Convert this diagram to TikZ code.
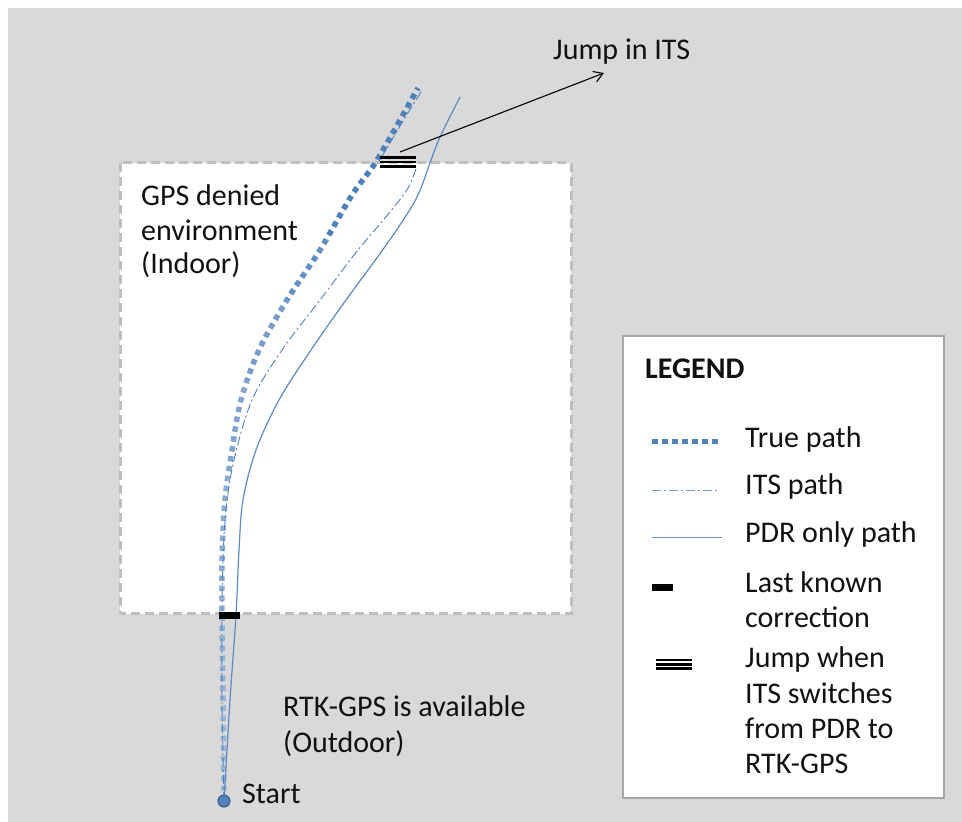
\documentclass[tikz,border=0pt]{standalone}
\usepackage{fontspec}
\setmainfont{Carlito}
\usetikzlibrary{arrows.meta}
\definecolor{bgray}{HTML}{D9D9D9}
\definecolor{pathblue}{HTML}{4F81BD}
\definecolor{pdrblue}{HTML}{5B8AC6}
\definecolor{boxdash}{HTML}{BFBFBF}
\definecolor{legframe}{HTML}{A6A6A6}
\definecolor{txt}{HTML}{111111}

\begin{document}
\begin{tikzpicture}[x=1pt,y=-1pt,
  lbl/.style={anchor=base west, inner sep=0pt, font=\fontsize{30}{36}\selectfont, text=txt},
  boldlbl/.style={lbl, font=\fontsize{30}{36}\selectfont\bfseries},
  truepath/.style={line width=5.5pt, dash pattern=on 5.5pt off 4.5pt},
  itspath/.style={pathblue, line width=0.9pt, dash pattern=on 9pt off 3pt on 2pt off 3pt},
  pdrpath/.style={pdrblue, line width=1.2pt},
  fixbar/.style={fill=black, inner sep=0pt, minimum width=21pt, minimum height=7pt},
  jumpbar/.style={inner sep=0pt, minimum width=36pt, minimum height=11pt},
  startdot/.style={circle, fill=pathblue, draw=pathblue!70!black, line width=1pt, minimum size=12pt, inner sep=0pt},
]
\useasboundingbox (0,0) rectangle (962,822);

% backdrop
\fill[bgray] (8,8) rectangle (962,822);

% indoor area
\draw[boxdash, fill=white, line width=3pt, dash pattern=on 9pt off 5pt] (120,162.5) rectangle (571,613.5);

% true path, shaded from light (bottom) to full blue (top)
\foreach \ya/\yb/\shade in {0/235/100, 235/300/88, 300/380/78, 380/470/71, 470/580/66, 580/700/62, 700/822/58}{
  \begin{scope}
    \clip (0,\ya) rectangle (962,\yb);
    \draw[truepath, pathblue!\shade!white] plot[smooth, tension=0.55] coordinates
      {(224,801) (223,700) (222,620) (222,560) (225,500) (232,450) (241,400) (259,350) (287,300) (320,250) (352,195) (377,160) (418,88)};
  \end{scope}
}

% PDR only path
\draw[pdrpath] plot[smooth, tension=0.55] coordinates
  {(224,801) (230,700) (236,615) (239,550) (243,500) (256,450) (279,400) (311,350) (346,300) (379,255) (402,222) (418,195) (430,163) (440,137) (460,97)};

% ITS path: follows PDR indoors, then jumps back onto the true path
\draw[itspath] plot[smooth, tension=0.55] coordinates
  {(224,801) (222,700) (222,610) (223,560) (226,510) (234,460) (252,400) (282,350) (320,300) (358,250) (390,212) (408,188) (417,166)};
\draw[itspath] plot[smooth, tension=0.55] coordinates {(381,158) (400,126) (421,92)};

% markers
\node[fixbar] (lastfix) at (229.5,615) {};
\node[jumpbar] (jump) at (398,162) {};
\foreach \d in {-4.3,0,4.3}
  \draw[line width=2.6pt] ([yshift=\d pt]jump.west) -- ([yshift=\d pt]jump.east);

\node[startdot] (start) at (224,801) {};
\node[lbl] (startlbl) at (242,803) {Start};

% labels
\node[lbl] (gps1) at (141,205) {GPS denied};
\node[lbl] (gps2) at (141,240) {environment};
\node[lbl] (gps3) at (141,273) {(Indoor)};
\node[lbl] (rtk1) at (283,716) {RTK-GPS is available};
\node[lbl] (rtk2) at (283,752) {(Outdoor)};
\node[lbl] (jumplbl) at (553,59) {Jump in ITS};
\coordinate (arrowfrom) at (400,152);
\coordinate (arrowto) at (604,73);
\draw[black, line width=1.1pt, -{Straight Barb[length=9pt, width=11pt]}] (arrowfrom) -- (arrowto);

% legend
\draw[legframe, fill=white, line width=2.5pt] (623,336) rectangle (944,798);
\node[boldlbl] (legtitle) at (645,378) {LEGEND};

\draw[truepath, pathblue] (652,441.5) -- (718,441.5);
\node[lbl] (legtrue) at (745,447) {True path};

\draw[itspath, pathblue!80!white] (652,490) -- (720,490);
\node[lbl] (legits) at (745,494) {ITS path};

\draw[pdrpath, pathblue!85!white] (652,537.7) -- (722,537.7);
\node[lbl] (legpdr) at (745,542) {PDR only path};

\node[fixbar] (legfix) at (662,587) {};
\node[lbl] (legfix1) at (745,592) {Last known};
\node[lbl] (legfix2) at (745,627) {correction};

\node[jumpbar] (legjump) at (674,664.3) {};
\foreach \d in {-4.3,0,4.3}
  \draw[line width=2.6pt] ([yshift=\d pt]legjump.west) -- ([yshift=\d pt]legjump.east);
\node[lbl] (legjump1) at (745,667) {Jump when};
\node[lbl] (legjump2) at (745,703) {ITS switches};
\node[lbl] (legjump3) at (745,738) {from PDR to};
\node[lbl] (legjump4) at (745,773) {RTK-GPS};
\end{tikzpicture}
\end{document}
